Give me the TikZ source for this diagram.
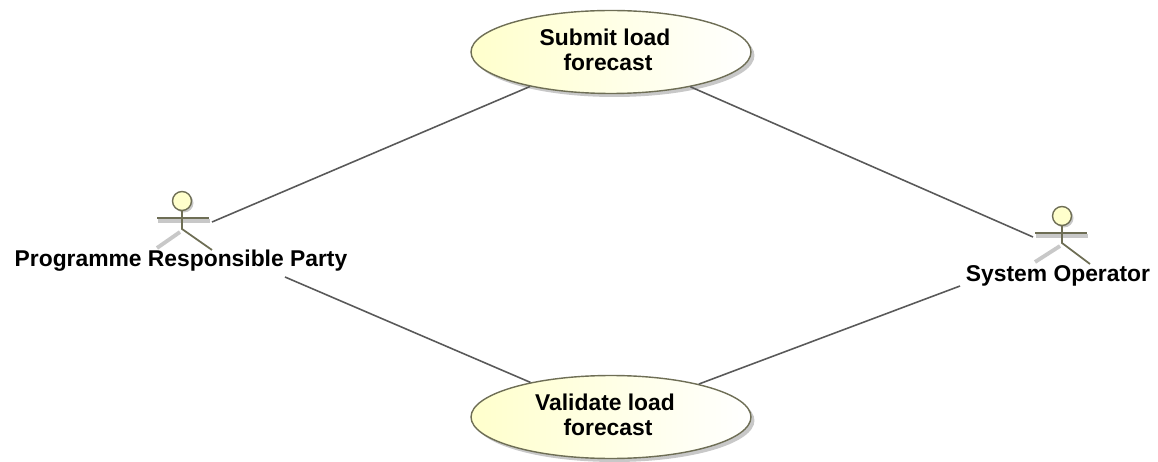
\documentclass[tikz,border=0pt]{standalone}
\usepackage{fontspec}
\setmainfont{Liberation Sans}
\usetikzlibrary{shapes.geometric}
\usetikzlibrary{shadows}

\definecolor{umlline}{RGB}{110,110,85}
\definecolor{umlfill}{RGB}{255,255,204}
\definecolor{umlshadow}{RGB}{200,200,200}

\begin{document}
\begin{tikzpicture}[x=0.02cm, y=-0.02cm,
	usecase/.style={ellipse, draw=umlline, thick, left color=umlfill, right color=white, minimum width=5.6cm, minimum height=1.66cm, inner sep=0pt, align=center, text depth=2.3pt, font=\bfseries\fontsize{13}{14}\selectfont, drop shadow={shadow xshift=0.07cm, shadow yshift=-0.07cm, fill=umlshadow, opacity=1}},
	head/.style={circle, draw=umlline, thick, fill=umlfill, minimum size=0.38cm, inner sep=0pt, drop shadow={shadow xshift=0.04cm, shadow yshift=-0.04cm, fill=umlshadow, opacity=1}},
	limb/.style={draw=umlline, line width=1pt},
	limbshadow/.style={draw=umlshadow, line width=2.2pt},
	actorname/.style={font=\bfseries\fontsize{13}{14}\selectfont, inner sep=0pt},
	line/.style={draw=black!65, line width=0.9pt}]

	\useasboundingbox (0,0) rectangle (1158,462);

	\node[usecase] (submit) at (611,52) {Submit load\kern6.8pt\\forecast\kern3.4pt};
	\node[usecase] (validate) at (611,417) {Validate load\kern6.8pt\\forecast\kern3.4pt};

	\node[head] (prp) at (182,201) {};
	\node[actorname] (prplabel) at (181,261) {Programme Responsible Party};
	\node[head] (so) at (1062,216) {};
	\node[actorname] (solabel) at (1058,276) {System Operator};

	% programme responsible party
	\coordinate (prphip) at (182,229);
	\coordinate (prpleft) at (157,218);
	\coordinate (prpright) at (209,218);
	\coordinate (prpfootl) at (157,248);
	\coordinate (prpfootr) at (212,250);
	\coordinate (prpline) at (212,222);
	\coordinate (prpdown) at (285,277);

	\draw[limbshadow] (prphip) ++ (-2,3) -- (prpfootl);
	\draw[limbshadow] (prpleft) ++ (1,3) -- ++ (52,0);
	\draw[limb] (prp) -- (prphip) -- (prpfootr);
	\draw[limb] (prpleft) -- (prpright);

	% system operator
	\coordinate (sohip) at (1062,243);
	\coordinate (soleft) at (1035,233);
	\coordinate (soright) at (1087,233);
	\coordinate (sofootl) at (1035,262);
	\coordinate (sofootr) at (1090,264);
	\coordinate (soline) at (1033,237);
	\coordinate (sodown) at (960,286);

	\draw[limbshadow] (sohip) ++ (-2,3) -- (sofootl);
	\draw[limbshadow] (soleft) ++ (1,3) -- ++ (52,0);
	\draw[limb] (so) -- (sohip) -- (sofootr);
	\draw[limb] (soleft) -- (soright);

	\draw[line] (prpline) -- (submit);
	\draw[line] (soline) -- (submit);
	\draw[line] (prpdown) -- (validate);
	\draw[line] (sodown) -- (validate);

\end{tikzpicture}
\end{document}
